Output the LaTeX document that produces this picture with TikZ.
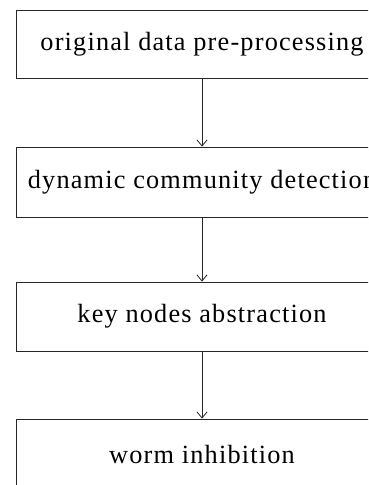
\documentclass[tikz,border=0pt]{standalone}
\usepackage{fontspec}
\setmainfont{Liberation Serif}
\usetikzlibrary{arrows.meta}
\begin{document}
\begin{tikzpicture}[x=1pt,y=-1pt,
  box/.style={draw=black!85, line width=0.9pt, minimum width=372pt, inner sep=0pt,
    font=\fontsize{26.3}{30}\selectfont\addfontfeature{LetterSpace=4.5}},
  conn/.style={draw=black!85, line width=0.8pt, -{Straight Barb[length=6pt,width=10pt]}}]
\useasboundingbox (0,0) rectangle (368,485);
\clip (0,0) rectangle (368,485);
\node[box, minimum height=68pt] (a) at (202,44) {original data pre-processing};
\node[box, minimum height=70pt] (b) at (202,182) {dynamic community detection};
\node[box, minimum height=69pt] (c) at (202,316.5) {key nodes abstraction};
\node[box, minimum height=70pt] (d) at (202,454) {worm inhibition};
\draw[conn] (a) -- (b);
\draw[conn] (b) -- (c);
\draw[conn] (c) -- (d);
\end{tikzpicture}
\end{document}
